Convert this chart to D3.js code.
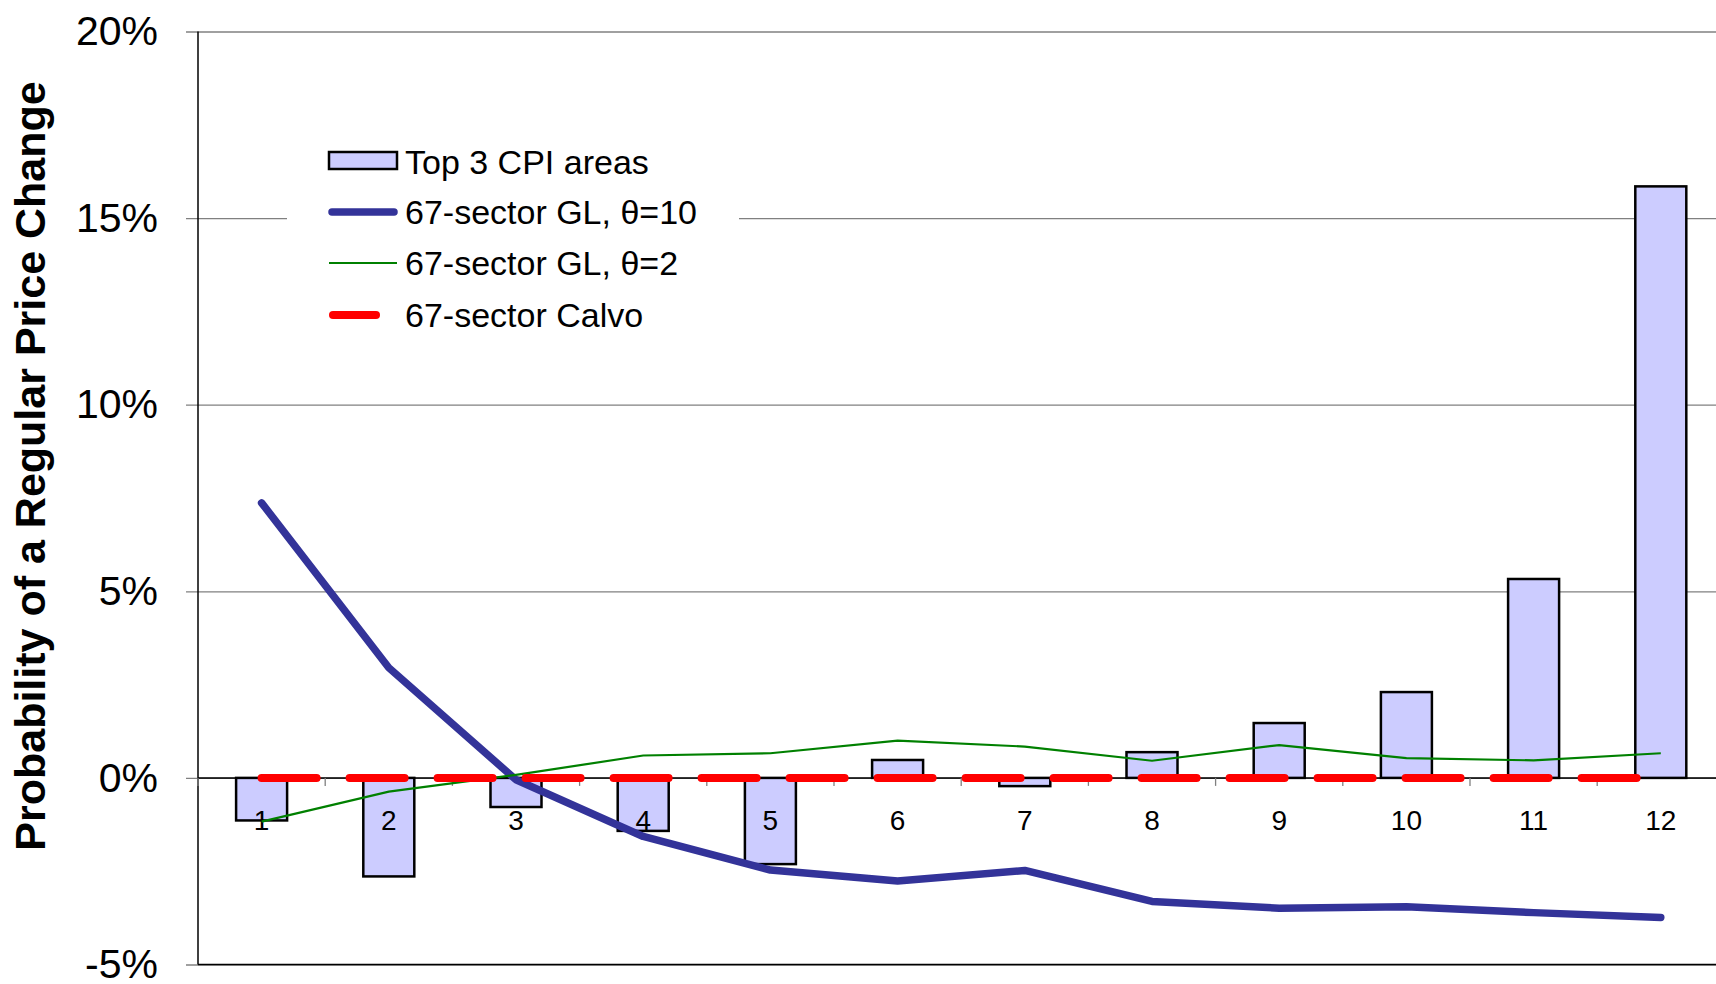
<!DOCTYPE html>
<html>
<head>
<meta charset="utf-8">
<script src="https://cdn.jsdelivr.net/npm/d3@7"></script>
<style>
  body { margin: 0; background: #fff; }
  text { font-family: "Liberation Sans", Arial, sans-serif; }
</style>
</head>
<body>
<div id="my_dataviz"></div>
<script>
// data
var months = [1, 2, 3, 4, 5, 6, 7, 8, 9, 10, 11, 12];
var top3Cpi = [-1.14, -2.64, -0.78, -1.42, -2.31, 0.48, -0.22, 0.69, 1.47, 2.30, 5.33, 15.85];
var glTheta10 = [7.37, 2.95, -0.05, -1.57, -2.47, -2.76, -2.48, -3.31, -3.49, -3.45, -3.61, -3.74];
var glTheta2 = [-1.17, -0.37, 0.08, 0.60, 0.66, 1.00, 0.84, 0.46, 0.88, 0.53, 0.47, 0.66];
var calvo = [0, 0, 0, 0, 0, 0, 0, 0, 0, 0, 0, 0];
var yTicks = [-5, 0, 5, 10, 15, 20];
var legendLabels = ["Top 3 CPI areas", "67-sector GL, \u03b8=10", "67-sector GL, \u03b8=2", "67-sector Calvo"];

// plot box (window.top is reserved, so use a margin object)
var W = 1716, H = 984;
var plot = {left: 198, right: 1724.4, top: 31.5, bottom: 964.5};

function init(){
    createChart();
}

function createChart(){
    var svg = d3.select("#my_dataviz")
    .append("svg")
    .attr("width", W)
    .attr("height", H);

    var x = d3.scaleBand()
    .domain(months)
    .range([plot.left, plot.right])
    .padding(0);

    var y = d3.scaleLinear()
    .domain([-5, 20])
    .range([plot.bottom, plot.top]);

    // gridlines + y labels
    var yAxis = svg.append("g")
    .attr("transform", "translate(186,0)")
    .call(d3.axisLeft(y)
        .tickValues(yTicks)
        .tickSize(-(plot.right - 186))
        .tickPadding(28)
        .tickFormat(function(d){ return d + "%"; }));
    yAxis.select(".domain").remove();
    yAxis.selectAll("line").attr("stroke", "#808080").attr("stroke-width", 1.3);
    yAxis.selectAll("text")
    .attr("fill", "#000")
    .style("font-size", "41px");

    // left axis line and bottom border
    svg.append("line")
    .attr("x1", plot.left).attr("x2", plot.left)
    .attr("y1", plot.top).attr("y2", plot.bottom)
    .attr("stroke", "#000")
    .attr("stroke-width", 1.5);
    svg.append("line")
    .attr("x1", plot.left).attr("x2", plot.right)
    .attr("y1", plot.bottom).attr("y2", plot.bottom)
    .attr("stroke", "#000")
    .attr("stroke-width", 1.5);

    // legend background covers the gridline
    svg.append("rect")
    .attr("x", 287).attr("y", 125)
    .attr("width", 452).attr("height", 215)
    .attr("fill", "#fff");

    // bars
    var bw = 51;
    svg.append("g")
    .selectAll("rect")
    .data(months)
    .enter()
    .append("rect")
        .attr("x", function(d){ return x(d) + x.bandwidth() / 2 - bw / 2; })
        .attr("y", function(d, i){ return y(Math.max(0, top3Cpi[i])); })
        .attr("width", bw)
        .attr("height", function(d, i){ return Math.abs(y(top3Cpi[i]) - y(0)); })
        .attr("fill", "#CCCCFF")
        .attr("stroke", "#000")
        .attr("stroke-width", 2.5);

    // zero line + category ticks
    svg.append("line")
    .attr("x1", plot.left).attr("x2", plot.right)
    .attr("y1", y(0)).attr("y2", y(0))
    .attr("stroke", "#000")
    .attr("stroke-width", 1.5);

    svg.append("g")
    .selectAll("line")
    .data(months)
    .enter()
    .append("line")
        .attr("x1", function(d){ return x(d); })
        .attr("x2", function(d){ return x(d); })
        .attr("y1", y(0))
        .attr("y2", y(0) + 8)
        .attr("stroke", "#808080")
        .attr("stroke-width", 1.3);

    // month labels
    var xAxis = svg.append("g")
    .attr("transform", "translate(0," + y(0) + ")")
    .call(d3.axisBottom(x).tickSize(0).tickPadding(32));
    xAxis.select(".domain").remove();
    xAxis.selectAll("text")
    .attr("fill", "#000")
    .style("font-size", "28px");

    var cx = function(d, i){ return x(months[i]) + x.bandwidth() / 2; };

    // lines
    svg.append("path")
    .datum(glTheta10)
    .attr("fill", "none")
    .attr("stroke", "#333399")
    .attr("stroke-width", 7.5)
    .attr("stroke-linecap", "round")
    .attr("stroke-linejoin", "round")
    .attr("d", d3.line().x(cx).y(function(d){ return y(d); }));

    svg.append("path")
    .datum(glTheta2)
    .attr("fill", "none")
    .attr("stroke", "#008000")
    .attr("stroke-width", 2.2)
    .attr("d", d3.line().x(cx).y(function(d){ return y(d); }));

    svg.append("path")
    .datum(calvo)
    .attr("fill", "none")
    .attr("stroke", "#FF0000")
    .attr("stroke-width", 8)
    .attr("stroke-linecap", "round")
    .attr("stroke-dasharray", "55,33")
    .attr("d", d3.line().x(cx).y(function(d){ return y(d); }));

    // legend
    var lg = svg.append("g");
    var rowY = [162, 212, 263, 315];
    lg.append("rect")
    .attr("x", 329).attr("y", 152)
    .attr("width", 68).attr("height", 17)
    .attr("fill", "#CCCCFF")
    .attr("stroke", "#000")
    .attr("stroke-width", 2.5);
    lg.append("line")
    .attr("x1", 332).attr("x2", 394)
    .attr("y1", rowY[1]).attr("y2", rowY[1])
    .attr("stroke", "#333399").attr("stroke-width", 7.5)
    .attr("stroke-linecap", "round");
    lg.append("line")
    .attr("x1", 329).attr("x2", 397)
    .attr("y1", rowY[2]).attr("y2", rowY[2])
    .attr("stroke", "#008000").attr("stroke-width", 2.2);
    lg.append("line")
    .attr("x1", 333).attr("x2", 376)
    .attr("y1", rowY[3]).attr("y2", rowY[3])
    .attr("stroke", "#FF0000").attr("stroke-width", 8)
    .attr("stroke-linecap", "round");
    lg.selectAll("text")
    .data(legendLabels)
    .enter()
    .append("text")
        .attr("x", 405)
        .attr("y", function(d, i){ return rowY[i] + 12; })
        .style("font-size", "34px")
        .text(function(d){ return d; });

    // y title
    svg.append("text")
    .attr("transform", "translate(45," + 466 + ") rotate(-90)")
    .attr("text-anchor", "middle")
    .style("font-size", "43px")
    .style("font-weight", "bold")
    .text("Probability of a Regular Price Change");
}

init();
</script>
</body>
</html>
